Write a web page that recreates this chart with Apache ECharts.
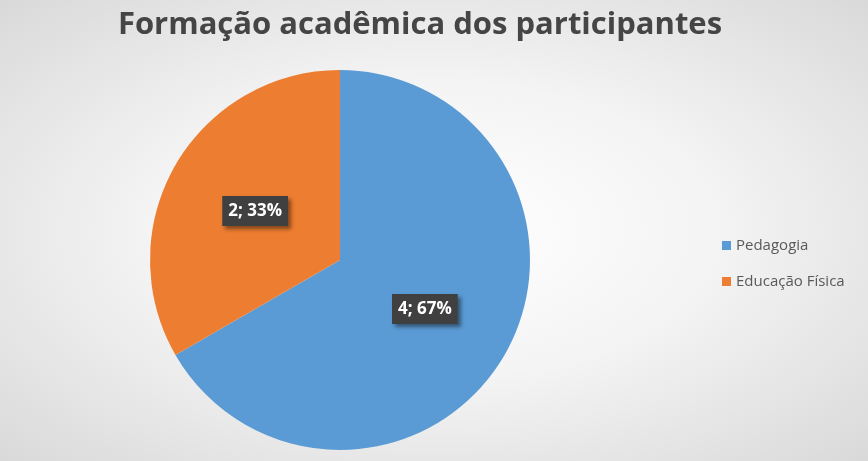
<!DOCTYPE html>
<html>
<head>
<meta charset="utf-8">
<script src="https://cdn.jsdelivr.net/npm/echarts@6/dist/echarts.min.js"></script>
<style>
  html, body { margin: 0; padding: 0; }
  #chart {
    width: 868px; height: 461px;
    background: radial-gradient(ellipse at 50% 50%, #ffffff 0%, #f4f4f4 45%, #d9d9d9 100%);
  }
</style>
</head>
<body>
<div id="chart"></div>
<script>
// dados do gráfico
var categorias = ['Pedagogia', 'Educação Física'];
var valores = [4, 2];
var cores = ['#5B9BD5', '#ED7D31'];

var dados = [];
for (var i = 0; i < categorias.length; i++) {
    dados.push({ name: categorias[i], value: valores[i], itemStyle: { color: cores[i] } });
}

var myChart = echarts.init(document.getElementById('chart'));
var option = {
    backgroundColor: 'transparent',
    animation: false,
    title: {
        text: 'Formação acadêmica dos participantes',
        left: 415,
        top: 5,
        textAlign: 'center',
        textStyle: {
            fontFamily: 'Open Sans',
            fontSize: 31,
            fontWeight: 'bold',
            color: '#454545'
        }
    },
    legend: {
        orient: 'vertical',
        left: 717,
        top: 233,
        itemWidth: 9,
        itemHeight: 9,
        itemGap: 21,
        icon: 'rect',
        textStyle: {
            fontFamily: 'Open Sans',
            fontSize: 15,
            color: '#595959'
        },
        data: categorias
    },
    series: [{
        type: 'pie',
        center: [340, 260],
        radius: [0, 190],
        startAngle: 90,
        clockwise: true,
        label: {
            show: true,
            position: 'inside',
            formatter: function (p) {
                return p.value + '; ' + Math.round(p.percent) + '%';
            },
            fontFamily: 'Open Sans',
            fontSize: 17,
            fontWeight: 'bold',
            color: '#ffffff',
            backgroundColor: '#404040',
            padding: [7, 6, 6, 6],
            shadowColor: 'rgba(0,0,0,0.45)',
            shadowBlur: 4,
            shadowOffsetX: 3,
            shadowOffsetY: 3
        },
        labelLine: { show: false },
        emphasis: { disabled: true },
        data: dados
    }]
};
myChart.setOption(option);
</script>
</body>
</html>
